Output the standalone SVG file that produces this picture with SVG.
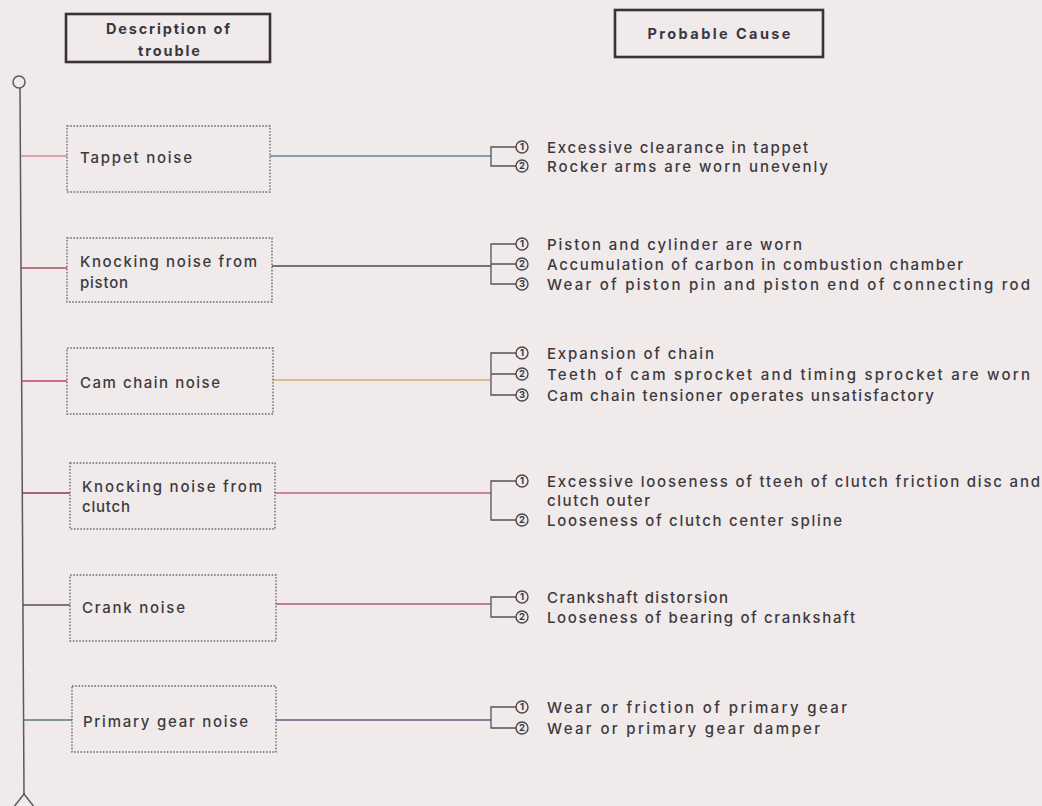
<svg xmlns="http://www.w3.org/2000/svg" width="1042" height="806" viewBox="0 0 1042 806">
<style>
.bg{fill:#f0eaeb}
.hdr{fill:none;stroke:#3a3238;stroke-width:2.6}
.htxt{font-family:"Inter","DejaVu Sans",sans-serif;font-size:14.5px;font-weight:700;fill:#3a383e;text-anchor:middle}
.box{fill:none;stroke:#6e6674;stroke-width:1.4;stroke-dasharray:1.6 1.6}
.ntxt{font-family:"Inter","DejaVu Sans",sans-serif;font-size:15px;font-weight:500;fill:#3c3a40}
.ctxt{font-family:"Inter","DejaVu Sans",sans-serif;font-size:15px;font-weight:500;fill:#3c3a40}
.nc{fill:none;stroke:#4a474e;stroke-width:1.4}
.num{font-family:"Inter","DejaVu Sans",sans-serif;font-size:9.5px;font-weight:700;fill:#3c3a40;text-anchor:middle}
.ln{fill:none;stroke-width:1.4}
.br{fill:none;stroke:#56525a;stroke-width:1.3}
.spine{fill:none;stroke:#5a5860;stroke-width:1.5}
</style>
<defs>
<g id="c1"><circle class="nc" cx="0" cy="0" r="6"/><text class="num" x="0" y="3.4">1</text></g>
<g id="c2"><circle class="nc" cx="0" cy="0" r="6"/><text class="num" x="0" y="3.4">2</text></g>
<g id="c3"><circle class="nc" cx="0" cy="0" r="6"/><text class="num" x="0" y="3.4">3</text></g>
</defs>
<rect class="bg" x="0" y="0" width="1042" height="806"/>

<g id="header-description">
<rect class="hdr" x="66" y="14" width="204" height="48"/>
<text class="htxt" x="168" y="34" textLength="124" lengthAdjust="spacing">Description of</text>
<text class="htxt" x="169" y="56" textLength="62" lengthAdjust="spacing">trouble</text>
</g>
<g id="header-cause">
<rect class="hdr" x="615" y="10" width="208" height="47"/>
<text class="htxt" x="719" y="39" textLength="143" lengthAdjust="spacing">Probable Cause</text>
</g>

<g id="spine">
<circle class="spine" cx="19" cy="82" r="6"/>
<line class="spine" x1="20" y1="88" x2="24" y2="794"/>
<polygon class="spine" points="24,794 13,808 35,808"/>
</g>

<g id="connectors">
<line class="ln" stroke="#d88a92" x1="21" y1="156" x2="67" y2="156"/>
<line class="ln" stroke="#b0485c" x1="21" y1="268" x2="67" y2="268"/>
<line class="ln" stroke="#c2407c" x1="22" y1="381" x2="67" y2="381"/>
<line class="ln" stroke="#8a3a52" x1="22" y1="493" x2="70" y2="493"/>
<line class="ln" stroke="#5a4a5a" x1="23" y1="605" x2="70" y2="605"/>
<line class="ln" stroke="#5a7a7a" x1="23" y1="720" x2="72" y2="720"/>

<line class="ln" stroke="#5a8aa0" x1="270" y1="156" x2="491" y2="156"/>
<line class="ln" stroke="#4a4a52" x1="272" y1="266" x2="491" y2="266"/>
<line class="ln" stroke="#d9a868" x1="273" y1="380" x2="491" y2="380"/>
<line class="ln" stroke="#c46080" x1="275" y1="493" x2="491" y2="493"/>
<line class="ln" stroke="#b05a80" x1="276" y1="604" x2="491" y2="604"/>
<line class="ln" stroke="#6a5a7a" x1="276" y1="720" x2="491" y2="720"/>

<path class="br" d="M516,147 H491 V166 H516"/>
<path class="br" d="M516,244 H491 V284 H516 M491,264 H516"/>
<path class="br" d="M516,353 H491 V395 H516 M491,374 H516"/>
<path class="br" d="M516,481 H491 V520 H516"/>
<path class="br" d="M516,597 H491 V617 H516"/>
<path class="br" d="M516,707 H491 V728 H516"/>
</g>

<g id="node-tappet">
<rect class="box" x="67" y="126" width="203" height="66"/>
<text class="ntxt" x="80" y="163" textLength="112" lengthAdjust="spacing">Tappet noise</text>
</g>
<g id="node-knocking-piston">
<rect class="box" x="67" y="238" width="205" height="64"/>
<text class="ntxt" x="80" y="267" textLength="177" lengthAdjust="spacing">Knocking noise from</text>
<text class="ntxt" x="80" y="288" textLength="48" lengthAdjust="spacing">piston</text>
</g>
<g id="node-cam-chain">
<rect class="box" x="67" y="348" width="206" height="66"/>
<text class="ntxt" x="80" y="388" textLength="140" lengthAdjust="spacing">Cam chain noise</text>
</g>
<g id="node-knocking-clutch">
<rect class="box" x="70" y="463" width="205" height="66"/>
<text class="ntxt" x="82" y="492" textLength="180" lengthAdjust="spacing">Knocking noise from</text>
<text class="ntxt" x="82" y="512" textLength="48" lengthAdjust="spacing">clutch</text>
</g>
<g id="node-crank">
<rect class="box" x="70" y="575" width="206" height="66"/>
<text class="ntxt" x="82" y="613" textLength="103" lengthAdjust="spacing">Crank noise</text>
</g>
<g id="node-primary-gear">
<rect class="box" x="72" y="686" width="204" height="66"/>
<text class="ntxt" x="83" y="727" textLength="165" lengthAdjust="spacing">Primary gear noise</text>
</g>

<g id="causes-tappet">
<use href="#c1" x="522" y="147"/>
<text class="ctxt" x="547" y="152.5" textLength="261" lengthAdjust="spacing">Excessive clearance in tappet</text>
<use href="#c2" x="522" y="166"/>
<text class="ctxt" x="547" y="171.5" textLength="281" lengthAdjust="spacing">Rocker arms are worn unevenly</text>
</g>
<g id="causes-knocking-piston">
<use href="#c1" x="522" y="244"/>
<text class="ctxt" x="547" y="249.5" textLength="255" lengthAdjust="spacing">Piston and cylinder are worn</text>
<use href="#c2" x="522" y="264"/>
<text class="ctxt" x="547" y="269.5" textLength="416" lengthAdjust="spacing">Accumulation of carbon in combustion chamber</text>
<use href="#c3" x="522" y="284"/>
<text class="ctxt" x="547" y="289.5" textLength="483" lengthAdjust="spacing">Wear of piston pin and piston end of connecting rod</text>
</g>
<g id="causes-cam-chain">
<use href="#c1" x="522" y="353"/>
<text class="ctxt" x="547" y="358.5" textLength="167" lengthAdjust="spacing">Expansion of chain</text>
<use href="#c2" x="522" y="374"/>
<text class="ctxt" x="547" y="379.5" textLength="483" lengthAdjust="spacing">Teeth of cam sprocket and timing sprocket are worn</text>
<use href="#c3" x="522" y="395"/>
<text class="ctxt" x="547" y="400.5" textLength="387" lengthAdjust="spacing">Cam chain tensioner operates unsatisfactory</text>
</g>
<g id="causes-knocking-clutch">
<use href="#c1" x="522" y="481"/>
<text class="ctxt" x="547" y="486.5" textLength="493" lengthAdjust="spacing">Excessive looseness of tteeh of clutch friction disc and</text>
<text class="ctxt" x="547" y="505.5" textLength="103" lengthAdjust="spacing">clutch outer</text>
<use href="#c2" x="522" y="520"/>
<text class="ctxt" x="547" y="525.5" textLength="295" lengthAdjust="spacing">Looseness of clutch center spline</text>
</g>
<g id="causes-crank">
<use href="#c1" x="522" y="597"/>
<text class="ctxt" x="547" y="602.5" textLength="181" lengthAdjust="spacing">Crankshaft distorsion</text>
<use href="#c2" x="522" y="617"/>
<text class="ctxt" x="547" y="622.5" textLength="308" lengthAdjust="spacing">Looseness of bearing of crankshaft</text>
</g>
<g id="causes-primary-gear">
<use href="#c1" x="522" y="707"/>
<text class="ctxt" x="547" y="712.5" textLength="300" lengthAdjust="spacing">Wear or friction of primary gear</text>
<use href="#c2" x="522" y="728"/>
<text class="ctxt" x="547" y="733.5" textLength="273" lengthAdjust="spacing">Wear or primary gear damper</text>
</g>
</svg>
